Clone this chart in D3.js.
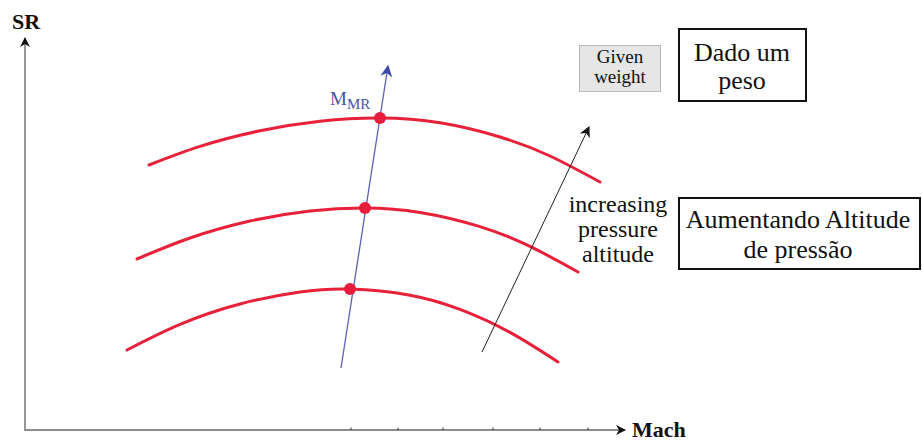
<!DOCTYPE html>
<html>
<head>
<meta charset="utf-8">
<script src="https://cdn.jsdelivr.net/npm/d3@7"></script>
<style>
  html, body { margin: 0; padding: 0; background: #fff; }
  svg { display: block; }
  text { font-family: "Liberation Serif", "Times New Roman", serif; }
</style>
</head>
<body>
<svg id="chart" width="922" height="441"></svg>
<script>
// Specific range (SR) vs Mach for a given weight, one curve per pressure altitude
const altitudeLevels = ["low", "mid", "high"];

const curveLow = [
  [0.502, 20.0], [0.555, 26.4], [0.615, 31.5], [0.675, 34.5], [0.725, 35.25],
  [0.785, 33.7], [0.835, 30.15], [0.885, 24.4], [0.933, 17.0]
];
const curveMid = [
  [0.512, 42.75], [0.565, 48.0], [0.625, 52.25], [0.685, 54.75], [0.740, 55.5],
  [0.795, 54.4], [0.855, 50.85], [0.905, 45.9], [0.953, 39.5]
];
const curveHigh = [
  [0.524, 66.25], [0.575, 70.9], [0.635, 74.8], [0.695, 77.2], [0.755, 78.0],
  [0.815, 76.8], [0.875, 73.25], [0.925, 68.5], [0.975, 62.0]
];

// Maximum-range Mach point on each curve
const mmrMach = [0.725, 0.740, 0.755];
const mmrSR = [35.25, 55.5, 78.0];

// M_MR trend line and the increasing-altitude arrow (start, end)
const mmrLine = [[0.716, 15.5], [0.763, 91.0]];
const altitudeArrow = [[0.857, 19.5], [0.964, 75.75]];

// Unlabelled tick marks on the Mach axis
const machTicks = [0.726, 0.773, 0.818, 0.868, 0.915, 0.963];

const machDomain = [0.40, 1.00];
const srDomain = [0, 100];
const srAxisTop = 98;

const svg = d3.select("#chart");
const x = d3.scaleLinear().domain(machDomain).range([25, 625]);
const y = d3.scaleLinear().domain(srDomain).range([430, 30]);

const defs = svg.append("defs");
function marker(id, color, w, h) {
  defs.append("marker")
    .attr("id", id)
    .attr("viewBox", "0 0 10 10")
    .attr("refX", 9).attr("refY", 5)
    .attr("markerUnits", "userSpaceOnUse")
    .attr("markerWidth", w).attr("markerHeight", h)
    .attr("orient", "auto")
    .append("path")
    .attr("d", "M0,0 L10,5 L0,10 L3,5 Z")
    .attr("fill", color);
}
marker("arrAxis", "#111", 12, 10);
marker("arrBlue", "#3f4aa8", 16, 12);
marker("arrBlack", "#111", 14, 11);

// Axes
svg.append("line")
  .attr("x1", x(machDomain[0])).attr("y1", y(0))
  .attr("x2", x(machDomain[1])).attr("y2", y(0))
  .attr("stroke", "#8c8c8c").attr("stroke-width", 1.8)
  .attr("marker-end", "url(#arrAxis)");
svg.append("line")
  .attr("x1", x(machDomain[0])).attr("y1", y(0) + 0.9)
  .attr("x2", x(machDomain[0])).attr("y2", y(srAxisTop))
  .attr("stroke", "#8c8c8c").attr("stroke-width", 1.8)
  .attr("marker-end", "url(#arrAxis)");

svg.selectAll(".tick")
  .data(machTicks)
  .join("line")
  .attr("class", "tick")
  .attr("x1", d => x(d)).attr("x2", d => x(d))
  .attr("y1", y(0) - 2.5).attr("y2", y(0))
  .attr("stroke", "#333").attr("stroke-width", 1);

svg.append("text")
  .attr("x", 12).attr("y", 29)
  .attr("font-size", 22).attr("font-weight", "bold")
  .attr("fill", "#111")
  .text("SR");
svg.append("text")
  .attr("x", 632).attr("y", 437)
  .attr("font-size", 22).attr("font-weight", "bold")
  .attr("fill", "#111")
  .text("Mach");

// SR curves
const line = d3.line()
  .x(d => x(d[0])).y(d => y(d[1]))
  .curve(d3.curveNatural);

svg.selectAll(".sr-curve")
  .data([curveLow, curveMid, curveHigh])
  .join("path")
  .attr("class", "sr-curve")
  .attr("d", line)
  .attr("fill", "none")
  .attr("stroke", "#e8213a")
  .attr("stroke-width", 3)
  .attr("stroke-linecap", "round");

// M_MR trend line
svg.append("line")
  .attr("x1", x(mmrLine[0][0])).attr("y1", y(mmrLine[0][1]))
  .attr("x2", x(mmrLine[1][0])).attr("y2", y(mmrLine[1][1]))
  .attr("stroke", "#5a62b8").attr("stroke-width", 1.3)
  .attr("marker-end", "url(#arrBlue)");

svg.selectAll(".mmr-dot")
  .data(altitudeLevels)
  .join("circle")
  .attr("class", "mmr-dot")
  .attr("cx", (d, i) => x(mmrMach[i]))
  .attr("cy", (d, i) => y(mmrSR[i]))
  .attr("r", 6)
  .attr("fill", "#e61e3c");

const mmrLabel = svg.append("text")
  .attr("x", 330).attr("y", 105)
  .attr("fill", "#4a52a8")
  .attr("font-size", 19);
mmrLabel.append("tspan").text("M");
mmrLabel.append("tspan").attr("font-size", 15).attr("dy", 4).text("MR");

// Increasing pressure altitude arrow
svg.append("line")
  .attr("x1", x(altitudeArrow[0][0])).attr("y1", y(altitudeArrow[0][1]))
  .attr("x2", x(altitudeArrow[1][0])).attr("y2", y(altitudeArrow[1][1]))
  .attr("stroke", "#222").attr("stroke-width", 1)
  .attr("marker-end", "url(#arrBlack)");

svg.append("text")
  .attr("text-anchor", "middle")
  .attr("font-size", 24)
  .attr("fill", "#111")
  .selectAll("tspan")
  .data(["increasing", "pressure", "altitude"])
  .join("tspan")
  .attr("x", 618)
  .attr("y", (d, i) => 212 + i * 25)
  .text(d => d);

// "Given weight" tag
svg.append("rect")
  .attr("x", 579.5).attr("y", 45.5).attr("width", 81).attr("height", 46)
  .attr("fill", "#e6e6e6").attr("stroke", "#b8b8b8").attr("stroke-width", 1);
svg.append("text")
  .attr("text-anchor", "middle").attr("font-size", 19).attr("fill", "#111")
  .selectAll("tspan")
  .data(["Given", "weight"])
  .join("tspan")
  .attr("x", 620)
  .attr("y", (d, i) => 63 + i * 20)
  .text(d => d);

// Portuguese annotation boxes
function noteBox(x0, y0, w, h, lines, cx, baseY, gap) {
  svg.append("rect")
    .attr("x", x0).attr("y", y0).attr("width", w).attr("height", h)
    .attr("fill", "#fff").attr("stroke", "#111").attr("stroke-width", 2);
  svg.append("text")
    .attr("text-anchor", "middle").attr("font-size", 26).attr("fill", "#111")
    .selectAll("tspan")
    .data(lines)
    .join("tspan")
    .attr("x", cx)
    .attr("y", (d, i) => baseY + i * gap)
    .text(d => d);
}
noteBox(679, 29, 127, 72, ["Dado um", "peso"], 742, 61, 28);
noteBox(679, 198, 241, 71, ["Aumentando Altitude", "de pressão"], 798, 228, 30);
</script>
</body>
</html>
